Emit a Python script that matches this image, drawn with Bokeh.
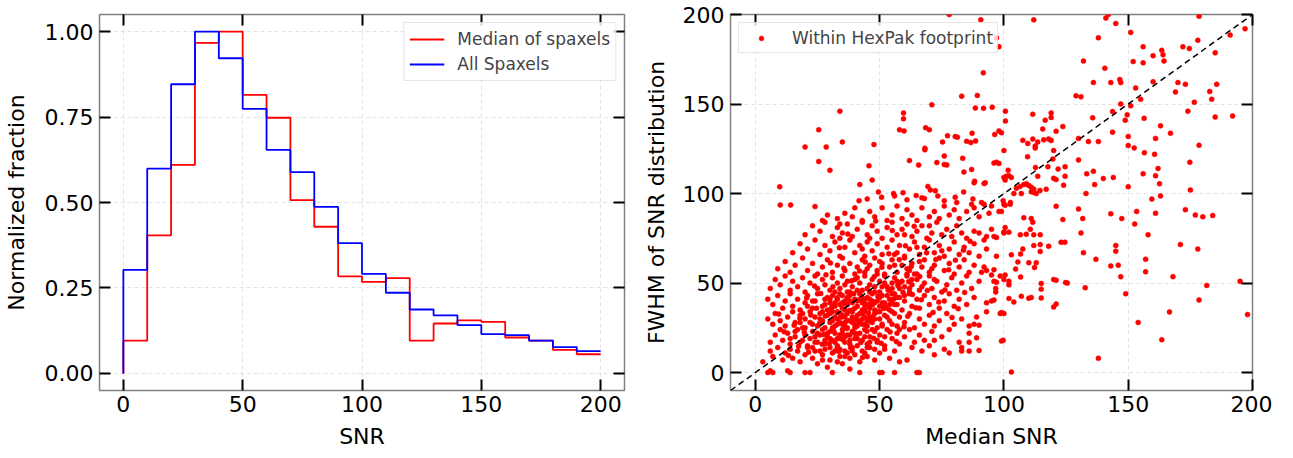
from bokeh.plotting import figure
from bokeh.layouts import row
from bokeh.models import (LinearAxis, FixedTicker, NumeralTickFormatter, Legend,
                          LegendItem, Slope, Range1d, CustomJSTickFormatter)
from bokeh.embed import file_html
from bokeh.resources import INLINE

# ---------------- data: left panel (normalized SNR histograms) ----------------
bin_edges = [0, 10, 20, 30, 40, 50, 60, 70, 80, 90, 100, 110, 120, 130, 140, 150,
             160, 170, 180, 190, 200]
median_of_spaxels = [0.096, 0.404, 0.610, 0.967, 1.000, 0.815, 0.748, 0.507, 0.429, 0.284,
                     0.268, 0.279, 0.096, 0.146, 0.155, 0.151, 0.105, 0.096, 0.069, 0.056]
all_spaxels = [0.303, 0.599, 0.846, 1.000, 0.922, 0.774, 0.654, 0.589, 0.487, 0.381,
               0.291, 0.236, 0.187, 0.170, 0.141, 0.115, 0.112, 0.096, 0.077, 0.065]
hist_xticks = [0, 50, 100, 150, 200]
hist_yticks = [0.0, 0.25, 0.50, 0.75, 1.00]

# ---------------- data: right panel (median SNR vs FWHM) ----------------
pts_upper_left = [
    (9.8, 103.8), (10, 93.6), (14.2, 93.6), (24, 92.7), (20, 126), (25.5, 135.6), (28.5, 126),
    (25.5, 117.9), (30, 113), (34, 146), (35, 128.8), (42, 105), (45.7, 115.5), (47.7, 127.4),
    (47, 107.5), (49.5, 100.9), (50.8, 98), (55.6, 100), (56, 98.7), (59.4, 100.5), (61, 96.5),
    (64.7, 98.9), (67, 97.6), (68, 97.2), (69.4, 104), (70.4, 102), (72.4, 101.6), (73.4, 98.7),
    (62, 118.4), (65.7, 115.9), (58, 135.6), (59.8, 135), (59.6, 145), (59.6, 141.8), (71, 149.6),
    (68.5, 136.8), (70, 135.6), (68.2, 125.3), (68.2, 124.4), (73, 117.3), (75.3, 128.8),
    (77.3, 132.3), (76, 121), (77, 116), (76, 116.2), (80.4, 131.8), (81.3, 131.5), (83, 154.4),
    (83.4, 119.7), (83.9, 112), (85, 129.2), (86.7, 128.5), (87.2, 133.7), (88.6, 129.4),
    (88.5, 147.8), (89.3, 154.8), (87, 113.5), (88.2, 106.9), (91.8, 147.6), (92, 105.6),
    (91.7, 167.4), (95.3, 148.2), (96.3, 133), (83.8, 100.9), (80.4, 98), (90.7, 197), (78, 200),
    (96, 117), (97, 187), (98, 182), (41.7, 96), (45, 97), (76, 96), (81, 95), (87.5, 97),
    (88, 106), (92.5, 106), (87, 94), (91, 95), (95, 93),
]
pts_upper_right = [
    (112, 197), (141, 198), (145, 195), (142, 200), (178.5, 199), (151, 190), (138, 187),
    (197, 192), (191, 188.5), (178, 185.6), (172, 182), (174.6, 181), (156, 182), (163.5, 180),
    (164, 177.5), (160, 177), (185, 178.6), (164.4, 174), (152, 173.7), (156, 173), (132, 174),
    (140.6, 170), (136, 162), (143, 162), (146.6, 163.7), (147, 162), (160, 162.4), (170, 162),
    (173, 161), (185.6, 161), (153, 159), (169, 156.7), (182.8, 157), (183.6, 152.7), (129, 154.6),
    (131, 154), (155, 152.7), (176.6, 151), (147, 150), (151, 149), (100.6, 146), (174, 146),
    (143.7, 145.8), (111.6, 144.3), (119, 145), (119, 142.5), (116.6, 141), (100.6, 140.5),
    (135.7, 142.3), (149.6, 144), (156.4, 142), (148.8, 141), (185, 142.7), (192, 143.3),
    (123.7, 137.4), (115.6, 136), (121, 134.8), (130, 130.8), (134, 129), (138, 129),
    (143.7, 134.3), (163, 137.8), (167, 133.7), (161, 130.8), (98, 135), (99, 134), (100, 124),
    (107.6, 129.7), (111.6, 130.4), (113.6, 128.8), (116, 130), (118, 130.5), (119, 129.6),
    (109.6, 128), (112.6, 126.6), (112.6, 125.4), (120, 124), (150, 131.9), (150, 126.8),
    (152.4, 125.5), (156.5, 122.8), (160.6, 121.9), (174.8, 117.5), (178.5, 127), (97, 117.5),
    (98, 116.8), (109.5, 120.6), (119.7, 119.3), (117.7, 115), (124.6, 115), (121.8, 113.7),
    (112.7, 114.6), (101.7, 113), (101, 109.7), (102, 110), (113.6, 109.6), (120, 108.5),
    (121, 107.8), (124.6, 109.7), (130, 118.8), (133.3, 111), (136, 112.4), (140, 108.4),
    (144, 109), (156, 111), (161, 110), (162, 114), (162.6, 105.5), (150, 103.8), (136.5, 105),
    (105, 103), (106.5, 104), (108, 105), (109, 105.5), (110, 104.5), (111, 103.5), (112, 102.5),
    (113, 100), (114.5, 101.7), (117, 102.4), (111, 101), (112, 100.6), (104, 100), (107, 100),
    (133, 100), (159.5, 96.9), (163, 98.7), (175, 102), (124, 104.7),
]
pts_lower_right = [
    (121, 92.9), (130, 91.4), (131.7, 86), (123.7, 85.5), (108, 86.5), (111, 86), (111.6, 84),
    (99, 90), (98, 90), (100, 94), (100.5, 93.5), (102.6, 95), (143, 88.7), (147.4, 86),
    (153.4, 90), (152.6, 83), (161, 89), (173, 91), (177, 88), (180, 87), (184, 87.7), (131, 78),
    (132, 67), (100.5, 81), (100, 78), (102, 78.4), (96, 76), (97, 75.5), (106.6, 77), (109, 77.3),
    (112, 77), (114.6, 77), (110.6, 80), (107.6, 69), (112, 71), (114.6, 71.5), (114.6, 67.7),
    (118, 70.6), (123, 72.8), (124.5, 72.8), (103, 65.8), (106.7, 66.2), (105.6, 61.8), (110, 61.4),
    (113, 61.4), (112.3, 58.7), (104.7, 57.8), (106.7, 53.4), (115, 49.8), (115, 46.6), (115, 41.7),
    (120, 52), (121, 51.6), (124.8, 50.3), (125.5, 50), (132.7, 47.4), (120, 36.6), (121, 38.3),
    (137, 63.3), (143, 59.6), (145, 71), (145, 67.8), (146, 60), (147, 53.6), (149, 44), (157, 63.3),
    (157, 56.3), (158, 77), (168, 53.6), (171, 71.5), (178, 69), (181.6, 48.7), (178.5, 40.6),
    (195, 51), (198, 32.4), (166.6, 33.9), (154, 28), (163.5, 18.4), (138, 8), (99.7, 18),
    (103, 0.3), (98.5, 33), (100, 33), (93, 57), (96, 57.5), (98.5, 54), (100.5, 54.5), (96, 51),
    (97, 50.5), (102, 41.4), (104, 39.4), (107, 42.6), (110, 41.5), (111, 42), (102, 51), (102, 49),
    (95, 40), (96, 40.5), (99, 33.5), (83, 12), (86, 17), (89, 19.4), (90, 12.4), (88, 27),
    (90, 26.5), (93, 39), (93, 34), (96.7, 45), (96.7, 47), (100, 52), (99, 17.6), (91, 56),
    (92, 59), (95, 54.5), (97, 65), (90, 78), (92, 74), (93, 69), (100, 78.5), (102.5, 94),
    (99.7, 96), (100, 109), (100.5, 107.5), (103, 109),
]
pts_cloud_high = [
    (27, 85), (29, 88), (33, 86), (36, 89), (39, 87), (40, 92), (43, 85), (46, 90), (48, 87),
    (51, 92), (53, 85), (55, 88), (57, 93), (59, 86), (61, 91), (63, 88), (65, 85), (67, 92),
    (70, 87), (72, 90), (74, 86), (76, 93), (78, 88), (80, 91), (82, 86), (85, 90), (88, 92),
    (90, 87), (92, 94), (94, 89), (34, 83),
    (20, 77), (23, 82), (26, 79), (28, 84), (31, 76), (33, 81), (35, 78), (37, 83), (39, 76),
    (41, 80), (43, 84), (45, 77), (47, 82), (49, 79), (51, 75), (53, 81), (55, 84), (57, 77),
    (59, 80), (61, 83), (63, 76), (65, 79), (67, 82), (69, 75), (71, 78), (73, 84), (75, 77),
    (77, 80), (79, 76), (81, 82), (83, 78), (85, 75), (88, 79), (93, 76), (95, 80),
    (34, 75), (46, 75), (60, 77), (70, 82),
    (15, 67), (18, 72), (21, 69), (24, 74), (26, 66), (28, 71), (30, 68), (32, 73), (34, 65),
    (36, 70), (38, 74), (40, 67), (42, 71), (44, 65), (45, 73), (47, 68), (49, 72), (51, 66),
    (53, 70), (55, 74), (57, 67), (58, 71), (60, 65), (62, 69), (64, 73), (66, 66), (68, 70),
    (70, 74), (72, 67), (74, 71), (76, 65), (78, 69), (80, 73), (82, 66), (84, 70), (86, 67),
    (88, 72), (90, 65), (43, 69), (56, 66), (65, 70), (75, 68),
]
pts_cloud_mid = [
    (9, 58), (12, 62), (14, 56), (16, 60), (19, 64), (21, 57), (23, 61), (25, 55), (27, 59),
    (29, 63), (31, 56), (33, 60), (35, 64), (36, 57), (38, 61), (40, 55), (41, 59), (43, 63),
    (44, 56), (46, 60), (48, 64), (49, 57), (51, 61), (52, 55), (54, 59), (55, 63), (57, 56),
    (59, 60), (60, 64), (62, 57), (63, 61), (65, 55), (67, 59), (68, 63), (70, 56), (72, 60),
    (74, 64), (76, 57), (78, 61), (80, 55), (82, 59), (84, 63), (86, 56), (88, 60), (45, 58),
    (50, 62), (56, 60), (61, 58), (66, 62), (71, 58),
    (6, 47), (8, 52), (10, 49), (12, 54), (14, 46), (15, 51), (17, 48), (19, 53), (20, 45),
    (22, 50), (24, 54), (25, 47), (27, 52), (28, 49), (30, 46), (31, 53), (33, 50), (34, 47),
    (35, 54), (37, 51), (38, 45), (39, 48), (41, 53), (42, 50), (43, 46), (44, 54), (46, 49),
    (47, 52), (48, 45), (50, 51), (51, 48), (52, 54), (54, 46), (55, 50), (56, 53), (58, 47),
    (59, 51), (61, 54), (62, 45), (63, 49), (65, 52), (66, 46), (68, 50), (70, 54), (71, 47),
    (73, 51), (75, 45), (77, 49), (79, 53), (81, 46), (83, 50), (85, 54), (87, 47), (90, 51),
    (36, 49), (40, 52), (45, 47), (49, 55), (53, 48), (57, 51), (60, 48), (64, 55), (67, 48),
    (72, 52),
]
pts_cloud_low = [
    (5, 41), (7, 38), (9, 43), (11, 36), (12, 40), (14, 44), (15, 37), (17, 41), (18, 35),
    (20, 39), (21, 43), (23, 36), (24, 40), (25, 44), (27, 37), (28, 41), (29, 35), (30, 39),
    (31, 43), (32, 37), (33, 41), (34, 44), (35, 36), (36, 40), (37, 38), (38, 43), (39, 35),
    (40, 41), (41, 37), (42, 44), (43, 39), (44, 36), (45, 42), (46, 38), (47, 44), (48, 35),
    (49, 40), (50, 37), (51, 43), (52, 39), (53, 36), (54, 41), (55, 44), (56, 38), (58, 42),
    (59, 35), (60, 40), (62, 44), (63, 37), (65, 41), (66, 36), (68, 43), (70, 38), (72, 42),
    (74, 36), (76, 40), (78, 44), (80, 37), (82, 41), (85, 38), (88, 42), (32, 39), (34, 38),
    (37, 42), (39, 39), (41, 40), (43, 42), (44, 38), (46, 41), (48, 39), (50, 42), (52, 37),
    (55, 39), (35, 43), (30, 41),
    (5, 30), (7, 27), (8, 33), (10, 29), (12, 26), (13, 31), (15, 34), (16, 28), (18, 32),
    (19, 25), (20, 30), (22, 34), (23, 27), (24, 31), (25, 26), (26, 33), (27, 29), (28, 25),
    (29, 32), (30, 28), (31, 34), (32, 26), (33, 30), (34, 33), (35, 27), (36, 31), (37, 25),
    (38, 29), (39, 34), (40, 27), (41, 32), (42, 28), (43, 30), (44, 34), (45, 26), (46, 31),
    (47, 28), (48, 33), (49, 25), (50, 30), (51, 27), (52, 32), (54, 29), (55, 34), (57, 26),
    (58, 31), (60, 28), (62, 33), (64, 25), (66, 30), (68, 27), (70, 32), (72, 26), (74, 29),
    (77, 33), (80, 27), (83, 30), (86, 26), (89, 31), (31, 29), (33, 27), (35, 32), (37, 29),
    (39, 31), (41, 26), (43, 33), (45, 29), (47, 31), (40, 30), (36, 28), (44, 27),
]
pts_cloud_base = [
    (6, 17), (8, 21), (10, 24), (11, 18), (13, 22), (14, 16), (16, 20), (17, 24), (18, 17),
    (20, 21), (21, 15), (22, 19), (23, 23), (25, 17), (26, 21), (27, 24), (28, 16), (29, 20),
    (30, 23), (31, 18), (32, 22), (33, 15), (34, 19), (35, 24), (36, 17), (37, 21), (38, 16),
    (39, 23), (40, 19), (41, 15), (42, 22), (43, 18), (44, 24), (45, 16), (46, 20), (48, 23),
    (49, 17), (50, 21), (52, 15), (53, 24), (55, 19), (57, 22), (58, 16), (60, 20), (62, 24),
    (64, 17), (66, 21), (68, 18), (70, 15), (72, 18), (71, 23), (75, 20), (78, 24), (82, 17),
    (86, 22), (30, 19), (32, 17), (34, 21), (36, 20), (38, 18), (40, 22), (24, 20), (19, 18),
    (3, 6), (6, 12), (7, 9), (9, 14), (11, 7), (12, 11), (14, 13), (15, 8), (17, 12), (18, 6),
    (20, 10), (21, 14), (23, 8), (24, 12), (25, 5), (27, 10), (28, 13), (30, 7), (31, 11),
    (33, 14), (34, 9), (35, 5), (36, 12), (38, 8), (39, 14), (40, 10), (42, 6), (43, 12), (45, 9),
    (46, 14), (48, 7), (50, 11), (52, 13), (54, 8), (56, 12), (58, 6), (61, 7), (63, 14), (67, 12),
    (72, 10), (76, 13), (78, 11), (83, 14), (86, 12), (32, 12), (37, 11),
    (5, 0), (6, 1), (7, 0), (13, 1), (14, 0), (20, 0), (22, 0), (29, 3), (31, 0), (38, 2), (42, 0),
    (50, 0), (51, 0), (56, 0), (65, 0), (66, 0),
]
pts_cloud_core = [
    (26, 12), (28, 18), (29, 22), (30, 14), (31, 25), (32, 31), (33, 19), (34, 13), (35, 22),
    (36, 26), (37, 33), (38, 21), (39, 12), (40, 25), (41, 19), (42, 33), (43, 27), (44, 20),
    (45, 14), (46, 36), (47, 24), (48, 30), (49, 18), (50, 34), (51, 26), (52, 20), (53, 31),
    (54, 38), (55, 27), (56, 33), (57, 42), (58, 24), (27, 34), (28, 38), (29, 42), (30, 33),
    (31, 37), (32, 45), (33, 34), (34, 28), (35, 39), (36, 35), (37, 45), (38, 40), (39, 28),
    (40, 36), (41, 46), (42, 41), (43, 35), (44, 31), (45, 38), (46, 45), (47, 40), (48, 48),
    (49, 34), (50, 45), (51, 39), (52, 50), (53, 43), (54, 35), (55, 47), (56, 44), (57, 38),
    (58, 50), (60, 43), (61, 55), (62, 47), (63, 52), (20, 25), (22, 28), (23, 14), (24, 17),
    (25, 22), (26, 30), (18, 28), (16, 23), (14, 19), (19, 33), (21, 37), (23, 40), (44, 11),
    (46, 17), (48, 13), (36, 9), (33, 6), (27, 7),
]
pts_cloud_extra = [
    (27.5, 21.3), (29.8, 16.2), (31.4, 23.7), (33.6, 11.8), (35.2, 18.4), (36.8, 24.6),
    (38.3, 13.9), (40.7, 21.6), (42.4, 16.8), (44.9, 23.1), (46.3, 28.7), (47.6, 19.2),
    (25.8, 27.4), (28.1, 31.6), (30.7, 36.2), (32.9, 41.8), (34.4, 30.9), (36.1, 38.6),
    (37.9, 34.7), (39.6, 44.1), (41.2, 29.3), (43.8, 40.2), (45.5, 33.4), (47.1, 37.9),
    (49.3, 42.6), (51.6, 35.8), (53.4, 46.1), (55.8, 41.3), (57.3, 48.7), (59.4, 44.9),
    (61.7, 50.8), (63.2, 43.6), (24.6, 35.9), (22.3, 32.2), (19.7, 22.6), (17.4, 14.7),
    (15.6, 26.4), (13.3, 9.6), (21.4, 11.3), (26.9, 15.8), (43.1, 8.4), (50.6, 16.4),
    (54.2, 22.7), (56.7, 17.3), (59.8, 25.6), (61.3, 31.4), (64.6, 36.2), (66.8, 40.7),
    (69.2, 45.9), (71.5, 33.6), (73.8, 39.4), (76.3, 46.2), (79.1, 30.8), (81.6, 35.7),
    (84.2, 44.8), (38.7, 51.3), (41.9, 56.7), (44.2, 61.8), (47.8, 53.6), (50.9, 58.9),
    (53.7, 66.4), (57.9, 63.1), (60.4, 70.8), (62.7, 59.2), (66.1, 53.7), (68.9, 66.9),
    (35.6, 58.3), (31.2, 47.9), (28.4, 54.6), (26.3, 44.2), (23.8, 48.3), (20.6, 41.6),
    (17.9, 30.4), (11.6, 22.8), (9.4, 32.7), (30.2, 61.2), (33.8, 69.7), (37.2, 77.4),
    (48.4, 84.6), (55.1, 79.3), (63.9, 81.7), (72.6, 63.2), (77.8, 57.4), (80.5, 62.8),
    (83.7, 68.4), (86.4, 73.3),
]
scatter_pts = (pts_upper_left + pts_upper_right + pts_lower_right + pts_cloud_high +
               pts_cloud_mid + pts_cloud_low + pts_cloud_base + pts_cloud_core + pts_cloud_extra)
median_snr = [p[0] for p in scatter_pts]
fwhm_snr = [p[1] for p in scatter_pts]
sc_ticks = [0, 50, 100, 150, 200]

FONT = "DejaVu Sans"
GREY = "#808080"
BLANK = CustomJSTickFormatter(code="return ''")


def style(p, xt, yt, xlabel, ylabel, xstand, ystand):
    xb = p.below[0]
    yl = p.left[0]
    p.outline_line_color = GREY
    p.outline_line_width = 1.5
    p.background_fill_color = "white"
    p.border_fill_color = "white"
    for ax in (xb, yl):
        ax.axis_line_color = None
        ax.major_tick_in = 11
        ax.major_tick_out = 0
        ax.major_tick_line_color = "black"
        ax.major_tick_line_width = 2
        ax.minor_tick_line_color = None
        ax.major_label_text_font = FONT
        ax.major_label_text_font_size = "22px"
        ax.major_label_text_color = "black"
        ax.axis_label_text_font = FONT
        ax.axis_label_text_font_size = "22px"
        ax.axis_label_text_font_style = "normal"
        ax.axis_label_text_color = "black"
    xb.ticker = FixedTicker(ticks=xt)
    yl.ticker = FixedTicker(ticks=yt)
    xb.major_label_standoff = 5
    yl.major_label_standoff = 6
    xb.axis_label = xlabel
    yl.axis_label = ylabel
    xb.axis_label_standoff = xstand
    yl.axis_label_standoff = ystand
    for loc, tk in (("above", xt), ("right", yt)):
        ax = LinearAxis(ticker=FixedTicker(ticks=tk), axis_line_color=None,
                        major_tick_in=11, major_tick_out=0, major_tick_line_width=2,
                        major_tick_line_color="black", minor_tick_line_color=None,
                        formatter=BLANK, major_label_standoff=0)
        p.add_layout(ax, loc)
    for g, tk in ((p.xgrid[0], xt), (p.ygrid[0], yt)):
        g.grid_line_color = "#d0d0d0"
        g.grid_line_alpha = 0.6
        g.grid_line_dash = "4 3"
        g.grid_line_width = 1
        g.ticker = FixedTicker(ticks=tk)
    return xb, yl


# ---------------- left figure ----------------
p1 = figure(frame_width=525, frame_height=376, output_backend="svg", toolbar_location=None,
            x_range=Range1d(-10, 210), y_range=Range1d(-0.05, 1.05),
            min_border_left=93, min_border_right=14, min_border_top=14, min_border_bottom=62)
xb1, yl1 = style(p1, hist_xticks, hist_yticks, "SNR", "Normalized fraction", 9, 13)
yl1.formatter = NumeralTickFormatter(format="0.00")

r_med = p1.step(x=bin_edges, y=[0] + median_of_spaxels, mode="before",
                line_color="#ff0000", line_width=1.8)
r_all = p1.step(x=bin_edges, y=[0] + all_spaxels, mode="before",
                line_color="#0000ff", line_width=1.8)
leg1 = Legend(items=[LegendItem(label="Median of spaxels", renderers=[r_med]),
                     LegendItem(label="All Spaxels", renderers=[r_all])],
              location="top_right", margin=8, padding=5, spacing=3,
              glyph_width=35, glyph_height=22, label_height=22, label_standoff=13,
              label_text_font=FONT, label_text_font_size="17px",
              border_line_color="#cccccc", border_line_width=1,
              background_fill_color="white", background_fill_alpha=0.8)
p1.add_layout(leg1)

# ---------------- right figure ----------------
p2 = figure(frame_width=522, frame_height=376, output_backend="svg", toolbar_location=None,
            x_range=Range1d(-10, 200), y_range=Range1d(-10, 200),
            min_border_left=92, min_border_right=20, min_border_top=14, min_border_bottom=62)
xb2, yl2 = style(p2, sc_ticks, sc_ticks, "Median SNR", "FWHM of SNR distribution", 9, 11)

r_sc = p2.scatter(x=median_snr, y=fwhm_snr, marker="circle", size=5,
                  fill_color="#ff0000", line_color="#ff0000", line_width=0.5)
p2.add_layout(Slope(gradient=1, y_intercept=0, line_color="black",
                    line_dash="6 4", line_width=1.5))
leg2 = Legend(items=[LegendItem(label="Within HexPak footprint", renderers=[r_sc])],
              location="top_left", margin=8, padding=4, spacing=0,
              glyph_width=36, glyph_height=12, label_height=21, label_standoff=13,
              label_text_font=FONT, label_text_font_size="17px",
              border_line_color="#cccccc", border_line_width=1,
              background_fill_color="white", background_fill_alpha=0.8)
p2.add_layout(leg2)

layout = row(p1, p2)
open("out.html", "w").write(file_html(layout, INLINE))
